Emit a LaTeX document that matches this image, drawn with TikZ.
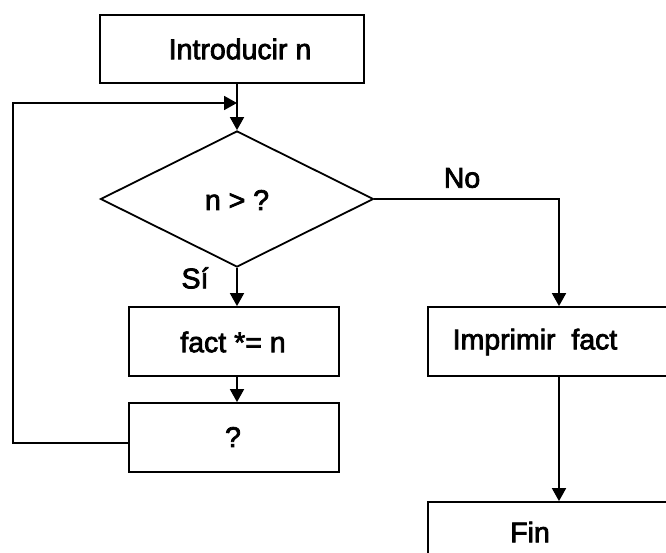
\documentclass[tikz,border=0pt]{standalone}
\usepackage{fontspec}
\setmainfont{Liberation Sans}[FakeBold=2.6]
\usetikzlibrary{shapes.geometric,arrows.meta}
\tikzset{
  boxnode/.style={draw, line width=1.8pt, rectangle, inner sep=0pt},
  dianode/.style={draw, line width=1.8pt, diamond, inner sep=0pt},
  txt/.style={inner sep=0pt, font=\fontsize{28.5}{33}\selectfont},
  conn/.style={line width=1.8pt},
  arr/.style={conn, -{Triangle[length=13pt,width=14pt]}}
}
\begin{document}
\begin{tikzpicture}[x=1pt,y=-1pt]
\useasboundingbox (0,0) rectangle (666,552);
\clip (0,0) rectangle (666,552);
\fill[white] (0,0) rectangle (666,552);
% shapes
\node[boxnode, minimum width=264pt, minimum height=68pt] (intro) at (232,49) {};
\node[dianode, minimum width=273pt, minimum height=136pt] (dia) at (237,199) {};
\node[boxnode, minimum width=210pt, minimum height=69pt] (fact) at (234,341.5) {};
\node[boxnode, minimum width=210pt, minimum height=69pt] (q) at (234,437.5) {};
\node[boxnode, minimum width=262pt, minimum height=69pt] (imp) at (559,341.5) {};
\node[boxnode, minimum width=262pt, minimum height=69pt] (fin) at (559,536.5) {};
% texts
\node[txt] (tintro) at (240,49) {Introducir n};
\node[txt] (tdia) at (237,200) {n > ?};
\node[txt] (tfact) at (233,342) {fact *= n};
\node[txt] (tq) at (233,437) {?};
\node[txt] (timp) at (535,342) {Imprimir\ \ fact};
\node[txt] (tfin) at (530,532) {Fin};
\node[txt] (si) at (195,278) {Sí};
\node[txt] (no) at (462,178) {No};
% helper coordinates
\coordinate (lp) at (129,443);
\coordinate (cl) at (13,103);
\coordinate (cr) at (559,199);
% connectors
\draw[arr] (intro.south -| dia.north) -- (dia.north);
\draw[arr] (dia.south) -- (fact.north -| dia.south);
\draw[arr] (fact.south -| dia.south) -- (q.north -| dia.south);
\draw[arr] (lp) -| (cl) -- (cl -| dia.north);
\draw[arr] (dia.east) -- (cr) -- (imp.north);
\draw[arr] (imp.south) -- (fin.north);
\end{tikzpicture}
\end{document}
